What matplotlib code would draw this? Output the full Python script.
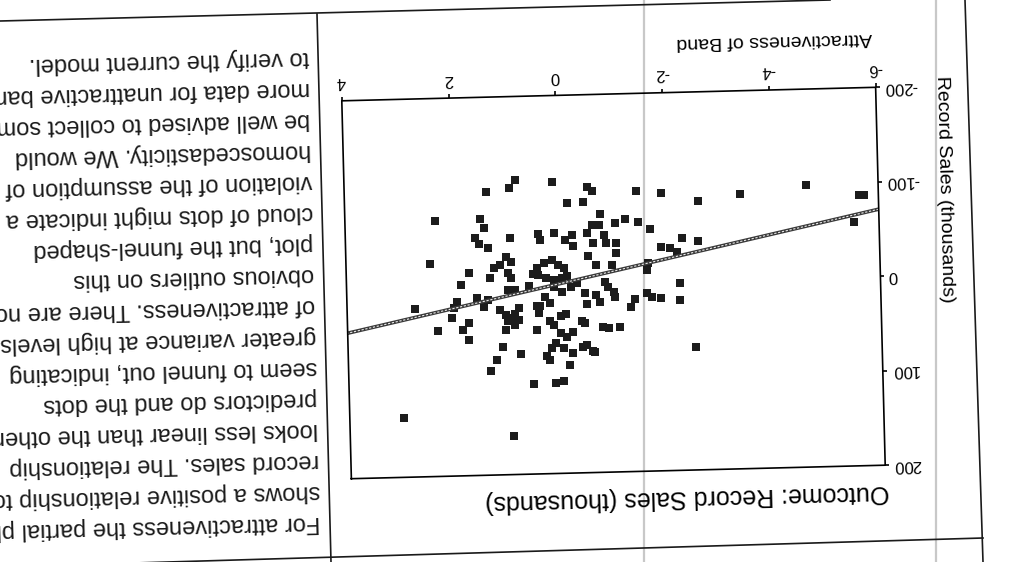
import matplotlib.pyplot as plt
from matplotlib.lines import Line2D
from matplotlib.markers import TICKUP, TICKRIGHT
from matplotlib.transforms import Affine2D, blended_transform_factory

plt.rcParams['font.family'] = ['Liberation Sans', 'DejaVu Sans']

# partial regression residuals
attract_resid = [
    0.79, 0.10, 0.91, 1.34, -0.55, -0.64, -1.47, -1.93, -0.17, -0.47,
    -2.62, -3.41, -4.65, -5.63, -5.74, -5.54, 2.31, 1.47, 1.40, -0.78,
    -0.62, -0.75, -1.05, -1.24, -1.49, -1.71, 0.92, 0.39, 0.36, 0.09,
    -0.11, -0.25, -0.26, -0.53, -0.63, -0.84, -0.88, -1.06, -1.06, 1.57,
    1.50, 1.33, -2.30, -2.61, -1.90, -2.07, -2.20, 2.42, 1.00, 0.91,
    1.12, 1.23, 1.70, 1.86, 1.31, 0.97, 0.92, 0.43, 0.29, 0.14,
    0.03, -0.08, -0.13, -0.03, 0.12, 0.27, 0.41, 0.50, -0.53, -0.68,
    -0.98, -1.65, -1.63, -2.24, 0.98, 0.85, 0.59, 1.57, 1.36, 1.44,
    0.12, -0.03, -0.20, -0.31, -0.85, -0.89, -1.00, -1.03, -0.46, -0.66,
    -0.49, -0.73, 0.28, 0.20, 0.39, -1.63, -1.71, -1.89, -2.23, -1.39,
    -1.31, 1.94, 2.00, 2.73, 1.14, 1.03, 0.94, 0.86, 0.79, 1.00,
    0.79, 0.87, 0.45, 0.40, -0.01, -0.09, 0.21, 0.14, -0.40, -0.44,
    -0.79, -0.90, -1.11, 2.31, 1.84, 2.04, 1.73, 1.74, 1.04, 0.46,
    0.00, -0.21, -0.10, 1.09, 0.11, -0.05, -0.39, -0.59, -2.52, 0.77,
    1.22, 1.33, 0.19, 0.27, 0.23, -0.20, -0.47, -0.63, -0.14, 0.53,
    0.13, -0.02, 2.98, 0.93,
]
sales_resid = [
    -112, -108, -103, -100, -102, -98, -97, -94, -86, -87,
    -84, -91, -99, -86, -86, -58, -70, -71, -62, -73,
    -62, -62, -63, -67, -64, -56, -50, -54, -47, -55,
    -47, -52, -40, -54, -43, -51, -42, -42, -32, -51,
    -45, -40, -46, -42, -37, -35, -31, -25, -30, -25,
    -22, -19, -14, -2, -9, -13, -8, -18, -23, -26,
    -20, -17, -9, -7, -5, -7, -10, -12, -29, -19,
    -19, -20, -13, 2, 5, 5, 1, 12, 15, 22,
    3, 8, 3, -1, -1, 4, 10, 15, 10, 12,
    21, 20, 13, 19, 22, 12, 16, 17, 20, 18,
    26, 16, 22, 22, 26, 31, 34, 30, 24, 37,
    37, 42, 22, 30, 33, 31, 38, 43, 39, 42,
    46, 47, 47, 46, 46, 33, 38, 56, 47, 48,
    52, 51, 56, 65, 62, 67, 67, 71, 70, 73,
    78, 90, 67, 75, 80, 73, 65, 73, 86, 105,
    104, 102, 137, 159,
]

# fitted line ends (b about 11.7)
fit_x = [-6, 4]
fit_y = [-71, 46]

x_ticks = [-6, -4, -2, 0, 2, 4]
y_ticks = [-200, -100, 0, 100, 200]

x_title = 'Attractiveness of Band'
y_title = 'Record Sales (thousands)'
chart_title = 'Outcome: Record Sales (thousands)'

paragraph = [
    'For attractiveness the partial plot',
    'shows a positive relationship to',
    'record sales. The relationship',
    'looks less linear than the other',
    'predictors do and the dots',
    'seem to funnel out, indicating',
    'greater variance at high levels',
    'of attractiveness. There are no',
    'obvious outliers on this',
    'plot, but the funnel-shaped',
    'cloud of dots might indicate a',
    'violation of the assumption of',
    'homoscedasticity. We would',
    'be well advised to collect some',
    'more data for unattractive bands',
    'to verify the current model.',
]

W, H = 1018, 562
fig = plt.figure(figsize=(W / 100, H / 100), dpi=100)
fig.patch.set_facecolor('white')


def fpos(x, y):
    # pixel position on the page (y from top) -> figure fraction
    return x / W, 1 - y / H


# the page was scanned upside down and slightly skewed
tilt = 1.45
ax = fig.add_axes([346.5 / W, (H - 472) / H, 534 / W, 378 / H])
ax.set_xlim(4, -6)
ax.set_ylim(200, -200)
ax.axis('off')
rot = Affine2D().rotate_deg_around(613.5, H - 283, tilt)

ax.scatter(attract_resid, sales_resid, s=26, marker='s', c='#1c1c1c',
           linewidths=0, transform=ax.transData + rot, clip_on=False, zorder=3)

ax.plot(fit_x, fit_y, color='#3a3a3a', lw=2.6, solid_capstyle='butt',
        transform=ax.transData + rot, clip_on=False, zorder=4)
ax.plot(fit_x, fit_y, color='white', lw=0.8, ls=(0, (2, 1.5)), alpha=0.9,
        transform=ax.transData + rot, clip_on=False, zorder=5)

# frame
ax.plot([0, 1, 1, 0, 0], [0, 0, 1, 1, 0], color='black', lw=1.2,
        transform=ax.transAxes + rot, clip_on=False, zorder=6)

top = blended_transform_factory(ax.transData, ax.transAxes)
right = blended_transform_factory(ax.transAxes, ax.transData)
ax.plot(x_ticks, [1] * len(x_ticks), ls='none', marker=TICKUP, ms=3, mew=1.2,
        color='black', transform=top + rot, clip_on=False)
ax.plot([1] * len(y_ticks), y_ticks, ls='none', marker=TICKRIGHT, ms=3, mew=1.2,
        color='black', transform=right + rot, clip_on=False)

for v in x_ticks:
    ax.text(v, 1, str(v), fontsize=12, rotation=180 + tilt, rotation_mode='anchor',
            ha='center', va='center',
            transform=top + Affine2D().translate(0, 19) + rot)
for v in y_ticks:
    ax.text(1, v, str(v), fontsize=12, rotation=180 + tilt, rotation_mode='anchor',
            ha='right', va='center',
            transform=right + Affine2D().translate(8, 0) + rot)

ax.text(0.995, 1, x_title, fontsize=14, rotation=180 + tilt, rotation_mode='anchor',
        ha='left', va='center',
        transform=ax.transAxes + Affine2D().translate(0, 50) + rot)
ax.text(1, 1, y_title, fontsize=14, rotation=-90 + tilt, rotation_mode='anchor',
        ha='left', va='center',
        transform=ax.transAxes + Affine2D().translate(66, 10) + rot)
ax.text(1.006, 0, chart_title, fontsize=18, rotation=180 + tilt, rotation_mode='anchor',
        ha='left', va='center',
        transform=ax.transAxes + Affine2D().translate(0, -27) + rot)

# body text beside the figure
for i, line in enumerate(paragraph):
    y = 522 - 31 * i
    x = 309 + 0.0253 * (y - 57)
    fig.text(*fpos(x, y), line, fontsize=17, color='#1a1a1a',
             rotation=180 + tilt, rotation_mode='anchor', ha='left', va='center')

# page rules and scanner streaks
rules = [
    ((0, 21), (830, 0)),
    ((100, 564), (983, 538)),
    ((317, 14), (331, 562)),
    ((965, 0), (983, 562)),
]
for (x0, y0), (x1, y1) in rules:
    a, b = fpos(x0, y0), fpos(x1, y1)
    fig.add_artist(Line2D([a[0], b[0]], [a[1], b[1]], color='#1a1a1a', lw=1.2))
for xs in [644, 936]:
    fig.add_artist(Line2D([xs / W, xs / W], [0, 1], color='#c8c8c8', lw=1.6, zorder=0))

fig.savefig('out.png', dpi=100)
